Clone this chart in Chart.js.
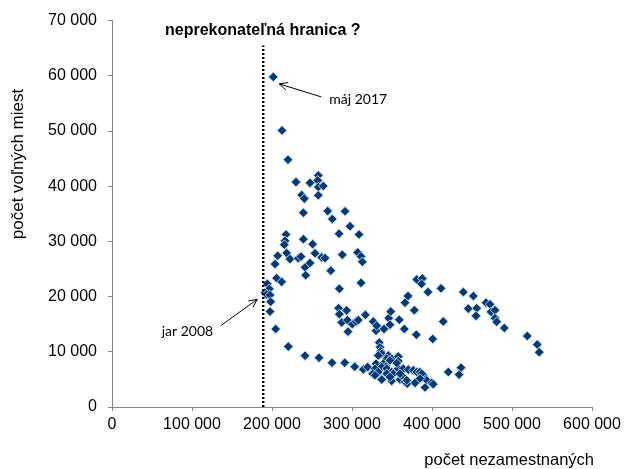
<!DOCTYPE html>
<html>
<head>
<meta charset="utf-8">
<script src="https://cdn.jsdelivr.net/npm/chart.js@4/dist/chart.umd.min.js"></script>
<style>
  html, body { margin: 0; padding: 0; background: #fff; }
  #wrap { width: 626px; height: 469px; }
</style>
</head>
<body>
<div id="wrap"><canvas id="scatterChart" width="626" height="469"></canvas></div>
<script>
// počet nezamestnaných (x) a počet voľných miest (y), odčítané z grafu
const nezamestnani = [
    201600, 212500, 220000, 230000, 247500, 257900, 257100, 257900, 264100, 237100,
    240400, 257900, 239200, 269600, 275400, 291300, 297500, 283800, 308800, 217500,
    216300, 215400, 239200, 250800, 207100, 218300, 222500, 232900, 236300, 253800,
    262100, 266300, 287900, 307100, 311300, 312900, 203800, 241300, 247500, 273500,
    242100, 311300, 284200, 205800, 212100,
    194200, 196700, 191300, 193400, 197500, 198300, 197500, 204600, 220400, 241300,
    258800, 275000, 290900, 303400, 314200, 319600,
    283300, 293300, 284200, 287100, 294200, 295000, 300400, 305000, 307900, 316700,
    326600, 330000, 330900, 340000, 345900, 348400, 347500, 359100, 365400, 366300,
    370000, 377900, 380400, 380900, 387900, 386900, 395000, 400900, 411300, 414100,
    420400,
    439200, 451700, 445400, 455900, 455000, 467500, 472500, 473800, 478800, 478800,
    480900, 490400, 519100, 531600, 534100, 436300, 433800,
    334100, 335000, 335900, 337100, 332900, 345400, 343400, 349600, 357900, 357900,
    347500, 330000, 339100, 342500, 337100, 328800, 332900, 343400, 349600, 355900,
    357900, 364100, 370400, 376600, 380900, 385000, 389100, 387100, 337100, 349600,
    360000, 366300, 369100, 378800, 393400, 399600, 391300, 401600, 351600, 362100,
    325800, 328800, 343400, 347500, 368400, 355900, 360000, 385000
];
const volneMiesta = [
    59800, 50100, 44800, 40750, 40600, 41950, 41050, 39850, 40030, 38400,
    37750, 38350, 35200, 35500, 34050, 35450, 32750, 31400, 31250, 31250,
    30100, 29400, 30400, 29500, 27400, 27900, 26800, 26950, 27250, 27850,
    27100, 26980, 27580, 28000, 27280, 26300, 25900, 25300, 26080, 24700,
    23870, 22490, 21420, 23340, 22670,
    22310, 21400, 20700, 20400, 20280, 19080, 17290, 14130, 10950, 9280,
    8920, 8020, 8020, 7300, 6820, 7230,
    17900, 17500, 16820, 15310, 15740, 13650, 15010, 15490, 15740, 16690,
    15490, 13820, 14720, 14130, 16100, 17290, 14900, 15800, 14130, 18900,
    20100, 17540, 13100, 23100, 23280, 22300, 20820, 12330, 21490, 15490,
    6340,
    20820, 20100, 17820, 17900, 16510, 18900, 18610, 17230, 17540, 16100,
    15440, 14310, 12870, 11310, 9930, 7130, 5870,
    11670, 10820, 10110, 9640, 9330, 9330, 8740, 8740, 9150, 8310,
    8440, 7840, 7840, 7360, 7230, 6940, 6340, 6940, 6340, 6640,
    6940, 6940, 6770, 6640, 6340, 6340, 5740, 6030, 4970, 4720,
    4970, 4540, 4250, 4370, 4850, 4370, 3540, 4130, 6030, 5740,
    6030, 5740, 6030, 5440, 4850, 7960, 6030, 5150
];

// hranica (bodkovaná čiara)
const hranicaX = 189000;
const hranicaY = [0, 65500];

// popisy
const majIndex = 0;          // bod "máj 2017"
const jarY = 19500;          // kam ukazuje šípka "jar 2008"

const xMax = 600000, xStep = 100000;
const yMax = 70000, yStep = 10000;

const FONT = '"Liberation Sans", Arial, sans-serif';

function formatNum(v) {
    return String(v).replace(/\B(?=(\d{3})+(?!\d))/g, ' ');
}

function arrow(ctx, x1, y1, x2, y2) {
    const a = Math.atan2(y2 - y1, x2 - x1), h = 9;
    ctx.beginPath();
    ctx.moveTo(x1, y1);
    ctx.lineTo(x2, y2);
    ctx.moveTo(x2 - h * Math.cos(a - 0.45), y2 - h * Math.sin(a - 0.45));
    ctx.lineTo(x2, y2);
    ctx.lineTo(x2 - h * Math.cos(a + 0.45), y2 - h * Math.sin(a + 0.45));
    ctx.stroke();
}

const annotations = {
    id: 'annotations',
    afterDraw(chart) {
        const { ctx, scales: { x, y } } = chart;
        ctx.save();
        ctx.fillStyle = '#000';
        ctx.strokeStyle = '#000';
        ctx.lineWidth = 1;

        ctx.font = 'bold 16px ' + FONT;
        ctx.textAlign = 'left';
        ctx.textBaseline = 'middle';
        ctx.fillText('neprekonateľná hranica ?', 165, 31);

        // osi
        ctx.font = '16.5px ' + FONT;
        ctx.textAlign = 'right';
        ctx.fillText('počet nezamestnaných', x.right + 2, 460);
        ctx.save();
        ctx.translate(18, 164);
        ctx.rotate(-Math.PI / 2);
        ctx.textAlign = 'center';
        ctx.font = '17px ' + FONT;
        ctx.fillText('počet voľných miest', 0, 0);
        ctx.restore();

        // máj 2017
        const px = x.getPixelForValue(nezamestnani[majIndex]);
        const py = y.getPixelForValue(volneMiesta[majIndex]);
        arrow(ctx, px + 48, py + 20, px + 6, py + 7);
        ctx.font = '14px Lato, ' + FONT;
        ctx.textAlign = 'left';
        ctx.fillText('máj 2017', px + 56, py + 23);

        // jar 2008
        const jx = x.getPixelForValue(hranicaX) - 6;
        const jy = y.getPixelForValue(jarY);
        arrow(ctx, jx - 36, jy + 26, jx, jy);
        ctx.textAlign = 'right';
        ctx.fillText('jar 2008', jx - 44, jy + 32);
        ctx.restore();
    }
};

const points = nezamestnani.map((v, i) => ({ x: v, y: volneMiesta[i] }));

new Chart(document.getElementById('scatterChart'), {
    type: 'scatter',
    data: {
        datasets: [
            {
                type: 'line',
                data: hranicaY.map(v => ({ x: hranicaX, y: v })),
                borderColor: '#000',
                borderWidth: 2.5,
                borderDash: [2, 2],
                pointRadius: 0,
                fill: false
            },
            {
                data: points,
                pointStyle: 'rectRot',
                pointRadius: 4.8,
                backgroundColor: '#003b78',
                borderColor: 'rgba(196, 210, 232, 0.95)',
                borderWidth: 1
            }
        ]
    },
    options: {
        responsive: false,
        animation: false,
        layout: { padding: { top: 17, right: 34, left: 0, bottom: 0 } },
        plugins: {
            legend: { display: false },
            tooltip: { enabled: false }
        },
        scales: {
            x: {
                type: 'linear',
                min: 0,
                max: xMax,
                afterFit: s => { s.height = 62; },
                ticks: {
                    stepSize: xStep,
                    color: '#000',
                    padding: 4,
                    font: { family: FONT, size: 16 },
                    callback: v => formatNum(v),
                    maxRotation: 0
                },
                grid: { drawOnChartArea: false, color: '#868686', tickLength: 4 },
                border: { color: '#868686' }
            },
            y: {
                min: 0,
                max: yMax,
                afterFit: s => { s.width = 112; },
                ticks: {
                    stepSize: yStep,
                    color: '#000',
                    padding: 11,
                    font: { family: FONT, size: 16 },
                    callback: v => formatNum(v)
                },
                grid: { drawOnChartArea: false, color: '#868686', tickLength: 4 },
                border: { color: '#868686' }
            }
        }
    },
    plugins: [annotations]
});
</script>
</body>
</html>
